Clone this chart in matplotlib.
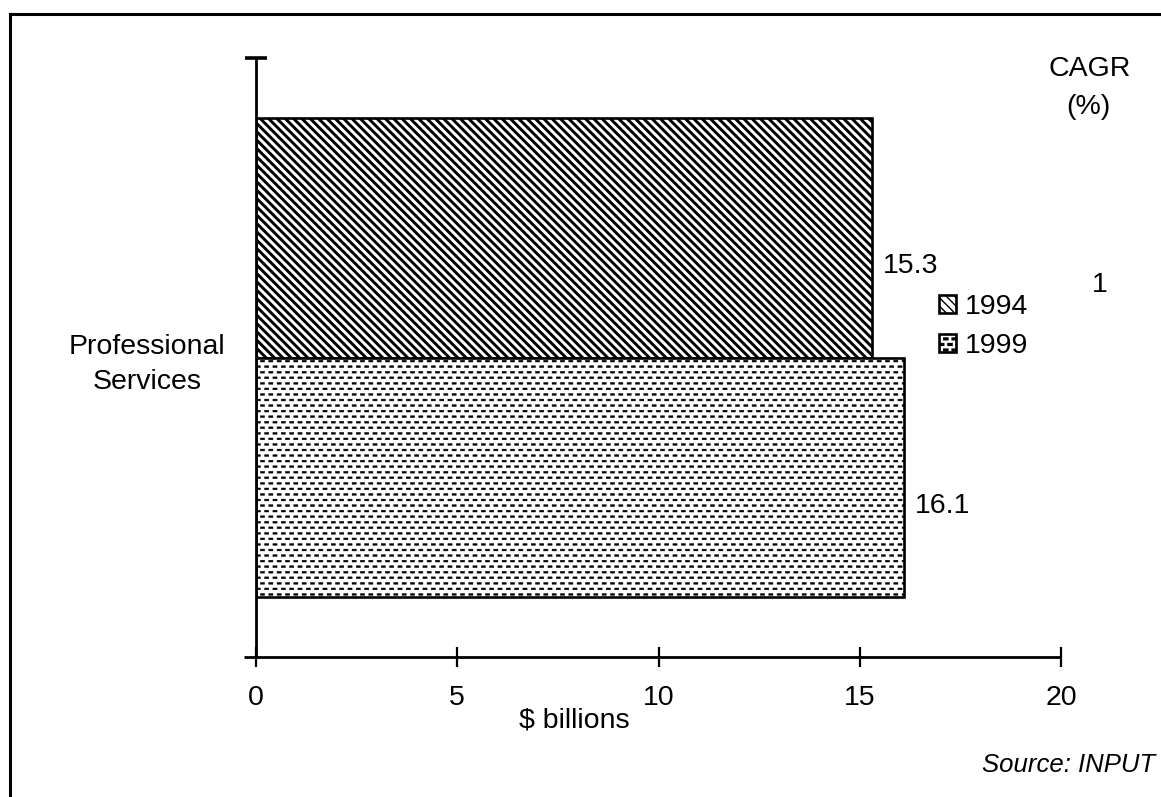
import numpy as np
import matplotlib
matplotlib.use("Agg")
import matplotlib.pyplot as plt
import matplotlib.hatch as mhatch
from matplotlib.path import Path
from matplotlib.lines import Line2D

# ---------------- data ----------------
categories = ["Professional\nServices"]
years = ["1994", "1999"]
values = [15.3, 16.1]
cagr_values = ["1"]
x_ticks = [0, 5, 10, 15, 20]
x_label = "$ billions"
source = "Source: INPUT"


# ------------- custom "dash" hatch (staggered short dashes) -------------
class DashHatch(mhatch.HatchPatternBase):
    """Replaces the '.' hatch: staggered rows of short horizontal dashes."""
    rows = 18
    cols = 12
    hw = 0.021
    hh = 0.009

    def __init__(self, hatch, density):
        n = hatch.count('.')
        self.active = n > 0
        if not self.active:
            self.num_vertices = 0
            return
        self.centers = []
        for r in range(self.rows + 1):
            y = r / self.rows
            if r % 2 == 0:
                xs = [c / self.cols for c in range(self.cols + 1)]
            else:
                xs = [(c + 0.5) / self.cols for c in range(-1, self.cols + 1)]
            for x in xs:
                self.centers.append((x, y))
        self.num_vertices = len(self.centers) * 5

    def set_vertices_and_codes(self, vertices, codes):
        hw, hh = self.hw, self.hh
        shape = np.array([[-hw, -hh], [hw, -hh], [hw, hh], [-hw, hh], [-hw, -hh]])
        scodes = [Path.MOVETO, Path.LINETO, Path.LINETO, Path.LINETO, Path.CLOSEPOLY]
        vparts, cparts = [], []
        for (x, y) in self.centers:
            vparts.append(shape + [x, y])
            cparts.append(scodes)
        np.concatenate(vparts, out=vertices)
        np.concatenate([np.array(c, dtype=codes.dtype) for c in cparts], out=codes)


mhatch._hatch_types[:] = [DashHatch if t is mhatch.SmallFilledCircles else t
                          for t in mhatch._hatch_types]

# ---------------- style ----------------
plt.rcParams['font.family'] = ['Liberation Sans', 'DejaVu Sans']
FS = 20.5
W, H = 1161, 797
fig = plt.figure(figsize=(W / 100, H / 100), dpi=100, facecolor='white')

def fx(px):
    return px / W

def fy(py):
    return 1 - py / H

ax = fig.add_axes([fx(256), fy(657), (1061 - 256) / W, (657 - 58) / H])
ax.set_facecolor('none')
ax.set_xlim(0, 20)
ax.set_ylim(-0.75, 1.75)

hatches = ['\\\\\\\\', '.']
hatch_lw = [2.1, 0.3]
offsets = [0.5, -0.5]
cat_pos = np.arange(len(categories)) + 0.5

bars = []
for i, (yr, v) in enumerate(zip(years, values)):
    with plt.rc_context({'hatch.linewidth': hatch_lw[i], 'hatch.color': 'black'}):
        b = ax.barh(cat_pos + offsets[i], [v], height=1.0, color='white',
                    edgecolor='black', linewidth=1.9, hatch=hatches[i], label=yr)
        for p in b.patches:
            if hasattr(p, 'set_hatch_linewidth'):
                p.set_hatch_linewidth(hatch_lw[i])
    bars.append(b)
    for yc, val in zip(cat_pos + offsets[i], [v]):
        ax.text(val + 0.28, yc - 0.12, f"{val}", ha='left', va='center', fontsize=FS)

# axes lines
for s in ['top', 'right', 'bottom']:
    ax.spines[s].set_visible(False)
ax.spines['left'].set_linewidth(2.0)
ax.plot([-0.3, 20], [-0.75, -0.75], color='black', lw=2.0, clip_on=False,
        solid_capstyle='butt')
ax.plot([-0.27, 0.27], [1.75, 1.75], color='black', lw=2.6, clip_on=False,
        solid_capstyle='butt')

ax.set_xticks(x_ticks)
ax.set_xticklabels([str(t) for t in x_ticks], fontsize=FS)
ax.tick_params(axis='x', direction='inout', length=14.5, width=1.6, pad=13)
ax.set_yticks(cat_pos)
ax.set_yticklabels(categories, fontsize=FS, multialignment='center',
                   linespacing=1.42)
ax.tick_params(axis='y', length=0, pad=22)

fig.text(fx(574), fy(720), x_label, ha='center', va='center', fontsize=FS)

# legend
leg = ax.legend(handles=[b.patches[0] for b in bars], labels=years,
                loc='upper left', bbox_to_anchor=(fx(939), fy(294)),
                bbox_transform=fig.transFigure, frameon=False, fontsize=FS,
                handlelength=0.58, handleheight=0.58, handletextpad=0.32,
                labelspacing=0.45, borderpad=0, borderaxespad=0)

# CAGR column
fig.text(fx(1090), fy(69), "CAGR", ha='center', va='center', fontsize=FS)
fig.text(fx(1088), fy(107), "(%)", ha='center', va='center', fontsize=FS)
fig.text(fx(1100), fy(285), cagr_values[0], ha='center', va='center', fontsize=FS)

# source
fig.text(fx(1155), fy(765), source, ha='right', va='center', fontsize=18.5,
         style='italic')

# frame lines (top and left)
fig.add_artist(Line2D([fx(10), 1.0], [fy(14), fy(14)], color='black', lw=2.2,
                      transform=fig.transFigure))
fig.add_artist(Line2D([fx(10), fx(10)], [fy(14), 0.0], color='black', lw=2.2,
                      transform=fig.transFigure))

fig.savefig("out.png", dpi=100, facecolor='white')
